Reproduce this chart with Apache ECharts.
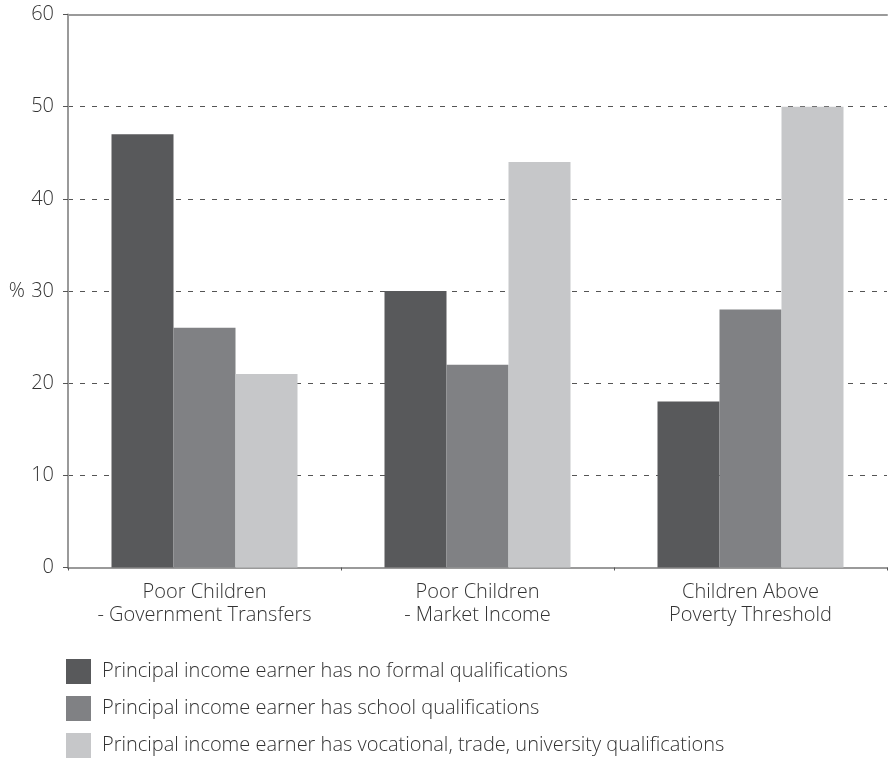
<!DOCTYPE html>
<html>
<head>
<meta charset="utf-8">
<script src="https://cdn.jsdelivr.net/npm/echarts@6/dist/echarts.min.js"></script>
<style>
html,body{margin:0;padding:0;background:#fff;}
#chart{width:896px;height:761px;}
</style>
</head>
<body>
<div id="chart"></div>
<script>
const categories = ['Poor Children\n- Government Transfers', 'Poor Children\n- Market Income', 'Children Above\nPoverty Threshold'];
const seriesNames = [
  'Principal income earner has no formal qualifications',
  'Principal income earner has school qualifications',
  'Principal income earner has vocational, trade, university qualifications'
];
const noFormal = [47, 30, 18];
const school = [26, 22, 28];
const vocational = [21, 44, 50];
const yTicks = [0, 10, 20, 30, 40, 50, 60];
const colors = ['#58595b', '#808184', '#c6c7c9'];

const FONT = '"Open Sans", "Noto Sans", sans-serif';
const TXT = '#333333';
const chart = echarts.init(document.getElementById('chart'), null, {renderer: 'canvas'});
const mk = (name, data, i) => ({
  name: name, type: 'bar', data: data, barWidth: 62, barGap: '0%',
  itemStyle: {color: colors[i]}, emphasis: {disabled: true}
});
chart.setOption({
  animation: false,
  backgroundColor: '#fff',
  textStyle: {fontFamily: FONT},
  grid: {left: 68, right: 9, top: 14.5, bottom: 193.5, containLabel: false},
  xAxis: [{
    type: 'category', data: categories, position: 'bottom',
    axisLine: {lineStyle: {color: '#9a9a9a', width: 2}},
    axisTick: {show: true, length: 3, interval: 0, lineStyle: {color: '#555', width: 1}},
    axisLabel: {interval: 0, hideOverlap: false, color: TXT, fontSize: 20, fontWeight: 300, lineHeight: 23, margin: 13, fontFamily: FONT}
  }, {
    type: 'category', data: categories, position: 'top',
    axisLine: {lineStyle: {color: '#9a9a9a', width: 2}},
    axisTick: {show: false}, axisLabel: {show: false}
  }],
  yAxis: {
    type: 'value', min: yTicks[0], max: yTicks[yTicks.length - 1], interval: 10,
    name: '%', nameLocation: 'middle', nameRotate: 0, nameGap: 43,
    nameTextStyle: {color: TXT, fontSize: 20, fontWeight: 300, fontFamily: FONT, align: 'right'},
    axisLine: {show: true, lineStyle: {color: '#9a9a9a', width: 2}},
    axisTick: {show: true, length: 5, lineStyle: {color: '#555', width: 1}},
    axisLabel: {color: TXT, fontSize: 20, fontWeight: 300, margin: 14, fontFamily: FONT},
    splitLine: {show: true, lineStyle: {color: '#555', width: 1, type: [5, 7]}}
  },
  legend: {
    orient: 'vertical', left: 66, top: 659, padding: 0, height: 110,
    itemWidth: 25, itemHeight: 25, itemGap: 12,
    icon: 'rect',
    textStyle: {color: TXT, fontSize: 20, fontWeight: 300, fontFamily: FONT, padding: [0, 0, 0, 6]},
    data: seriesNames
  },
  series: [mk(seriesNames[0], noFormal, 0), mk(seriesNames[1], school, 1), mk(seriesNames[2], vocational, 2)]
});
</script>
</body>
</html>
